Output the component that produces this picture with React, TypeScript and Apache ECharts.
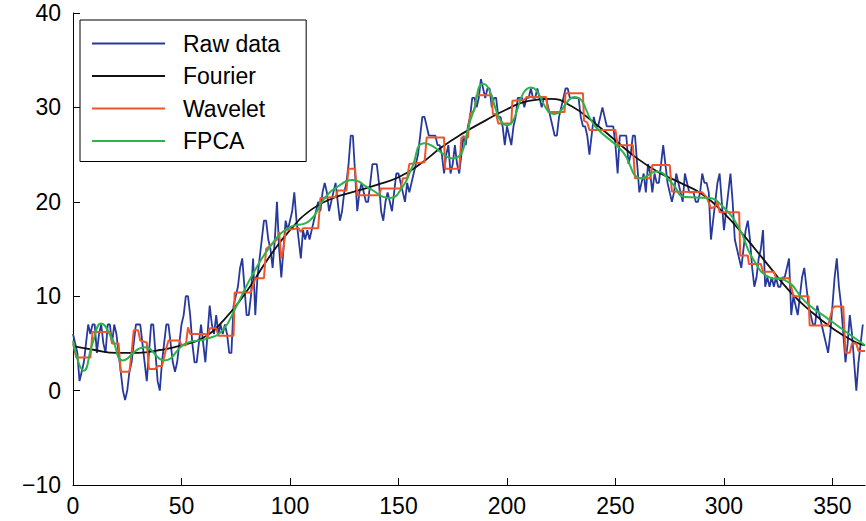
import React, { useEffect, useRef } from "react";
import * as echarts from "echarts";

const rawData: number[] = [
  6, 5, 4, 1, 2, 3, 5, 7, 6, 7, 7, 4, 6, 7, 5, 4, 7, 7, 5, 7, 6, 4, 2, 0, -1, 0, 2, 3, 5, 7,
  7, 7, 5, 3, 1, 4, 7, 7, 4, 1, 0, 3, 5, 7, 7, 5, 3, 2, 3, 5, 7, 8, 10, 10, 8, 5, 3, 3, 5, 7,
  5, 3, 6, 9, 7, 6, 8, 6, 7, 6, 7, 6, 4, 4, 9, 10, 11, 13, 14, 11, 8, 8, 10, 14, 8, 12, 14, 16, 18, 18,
  16, 15, 13, 16, 20, 15, 12, 15, 18, 17, 18, 19, 21, 18, 16, 14, 17, 16, 17, 16, 17, 18, 19, 20, 19, 21, 22, 21, 19, 20,
  21, 22, 20, 18, 19, 21, 22, 24, 27, 27, 23, 19, 21, 22, 21, 20, 20, 22, 24, 24, 24, 22, 19, 18, 20, 21, 20, 19, 21, 23,
  23, 22, 21, 20, 22, 21, 22, 23, 24, 25, 27, 29, 29, 28, 27, 27, 27, 27, 26, 26, 25, 23, 25, 26, 23, 24, 26, 24, 23, 25,
  27, 26, 28, 29, 31, 31, 30, 31, 33, 32, 31, 32, 32, 30, 31, 31, 29, 29, 28, 26, 28, 27, 26, 28, 29, 31, 31, 31, 30, 31,
  31, 32, 31, 31, 32, 31, 30, 31, 31, 30, 29, 28, 27, 27, 29, 30, 31, 32, 32, 31, 31, 31, 31, 31, 29, 28, 28, 27, 25, 27,
  29, 28, 28, 29, 30, 29, 28, 28, 28, 28, 26, 23, 27, 27, 27, 27, 24, 25, 27, 27, 24, 21, 22, 23, 21, 24, 23, 21, 23, 22,
  22, 24, 26, 24, 22, 21, 20, 21, 23, 22, 21, 20, 23, 22, 21, 21, 21, 20, 20, 21, 23, 22, 22, 21, 16, 18, 20, 22, 23, 20,
  17, 19, 21, 23, 20, 16, 15, 14, 13, 15, 17, 18, 16, 13, 11, 12, 14, 15, 17, 11, 12, 11, 12, 11, 12, 11, 11, 12, 12, 13,
  14, 8, 10, 9, 8, 10, 12, 13, 11, 9, 8, 7, 7, 9, 8, 7, 6, 5, 4, 6, 9, 12, 14, 11, 9, 6, 3, 5, 8, 6, 3, 0, 3, 5, 7,
];

const fourierDays: number[] = [0, 10, 20, 30, 40, 50, 60, 70, 80, 90, 100, 110, 120, 130, 140, 150, 160, 170, 180, 190, 200, 210, 220, 230, 240, 250, 260, 270, 280, 290, 300, 310, 320, 330, 340, 350, 360, 365];
const fourierValues: number[] = [4.7, 4.3, 4.0, 4.0, 4.3, 4.8, 5.6, 7.6, 10.5, 14.0, 17.0, 19.2, 20.4, 21.1, 21.8, 22.6, 24.0, 25.8, 27.3, 28.6, 29.8, 30.7, 30.9, 30.1, 28.4, 26.5, 24.6, 23.1, 22.0, 20.8, 18.8, 16.2, 13.4, 10.6, 8.4, 6.6, 5.2, 4.8];

const waveletDays: number[] = [0, 1.5, 8, 9, 17, 18, 21, 22, 26, 27, 28, 30, 31, 34, 35, 38, 39, 41, 43, 44, 49, 50, 52, 53, 54, 61, 62, 63, 66, 67, 74, 74.5, 82, 84, 88, 89, 91, 94, 95, 96, 97, 98, 104, 105, 106, 113, 114, 121, 122, 126, 127, 130, 131, 141, 142, 151, 152, 154, 155, 162, 163, 171, 171.5, 178, 179, 182, 183, 185, 186, 193, 193.5, 195, 196, 202, 202.5, 208, 209, 218, 219, 226.5, 227, 235, 235.5, 237, 238, 250, 251, 258, 259, 266, 267, 275, 276, 290, 292, 294, 296, 297, 298, 307, 307.5, 311, 311.5, 317, 318, 323, 324, 330, 331, 332, 339, 339.5, 348, 349, 350, 351, 355, 356, 358, 359, 361, 362, 365];
const waveletValues: number[] = [5, 3.5, 3.5, 6.2, 6.2, 5, 5, 2, 2, 4, 6.4, 6.4, 5.3, 5.1, 2.3, 2.3, 2.6, 2.6, 4.5, 5.3, 5.3, 4.8, 4.8, 6.7, 6, 6, 5.6, 6.6, 6.6, 5.8, 5.8, 10.4, 10.4, 11.9, 11.9, 15, 15.4, 16, 16.8, 14, 15, 17, 17.2, 16.8, 17.2, 17.2, 20.4, 20.5, 21.2, 21.2, 23.5, 23.5, 20.7, 20.7, 21.4, 21.4, 22.5, 22.5, 24, 24.2, 26.8, 26.8, 23.5, 23.5, 26.8, 26.8, 29.3, 29.7, 31.3, 31.3, 29.3, 29.3, 28.3, 28.3, 30.7, 30.8, 31.1, 31.1, 29.5, 29.5, 31.5, 31.5, 28.6, 28.4, 27.6, 27.6, 26, 26, 22.5, 22.5, 23.9, 23.9, 21.1, 21, 20.5, 19.3, 19.5, 20, 18.9, 18.9, 14.3, 14.3, 13.4, 13.4, 12.6, 12.6, 11.9, 11.9, 11, 10, 10, 6.9, 6.9, 7.8, 8.7, 8.9, 8.9, 4, 4, 5, 5, 4.2, 4.2];

const fpcaDays: number[] = [0, 5, 9, 13, 18, 23, 30, 33, 42, 52, 62, 69, 75, 83, 91, 99, 109, 116, 122, 129, 136, 146, 152, 156, 162, 175, 184, 189, 200, 211, 222, 231, 241, 253, 262, 269, 276, 282, 293, 299, 307, 313, 321, 328, 338, 348, 357, 365];
const fpcaValues: number[] = [5.3, 2.1, 5.0, 7.1, 5.5, 3.2, 4.4, 4.6, 3.2, 5.0, 5.5, 6.4, 8.8, 12.4, 15.3, 17.2, 18.0, 20.4, 21.6, 22.3, 21.5, 20.4, 21.6, 23.5, 26.2, 24.6, 29.2, 32.5, 28.1, 32.1, 29.3, 31.1, 27.9, 25.4, 22.5, 23.2, 22.0, 20.5, 20.4, 19.6, 17.2, 14.1, 12.0, 11.7, 9.3, 7.6, 6.1, 4.8];

const seriesNames: string[] = ["Raw data", "Fourier", "Wavelet", "FPCA"];
const xTicks: number[] = [0, 50, 100, 150, 200, 250, 300, 350];
const yTicks: number[] = [-10, 0, 10, 20, 30, 40];

const FONT = "'Liberation Sans', Arial, Helvetica, sans-serif";

export default function App() {
  const ref = useRef<HTMLDivElement>(null);
  useEffect(() => {
    if (!ref.current) return;
    const chart = echarts.init(ref.current, undefined, { renderer: "svg" });
    const pair = (xs: number[], ys: number[]) => xs.map((x, i) => [x, ys[i]]);
    const fmtY = (v: number) => (v < 0 ? "\u2212" + Math.abs(v) : String(v));
    const axisLineStyle = { color: "#000", width: 1 };
    chart.setOption({
      animation: false,
      backgroundColor: "#fff",
      grid: { left: 73, right: 1, top: 13, bottom: 36, containLabel: false },
      legend: {
        left: 80,
        top: 20,
        orient: "vertical",
        data: seriesNames,
        icon: "rect",
        itemWidth: 73,
        itemHeight: 2,
        itemGap: 9.5,
        padding: [12, 26, 9, 12],
        borderColor: "#000",
        borderWidth: 1,
        backgroundColor: "#fff",
        textStyle: { fontFamily: FONT, fontSize: 23, lineHeight: 23, color: "#000", padding: [0, 0, 0, 13] },
      },
      xAxis: {
        type: "value",
        min: 0,
        max: 365,
        interval: 50,
        axisLine: { show: true, onZero: false, lineStyle: axisLineStyle },
        axisTick: { show: true, inside: true, length: 7, lineStyle: axisLineStyle },
        axisLabel: {
          fontFamily: FONT,
          fontSize: 23,
          color: "#000",
          margin: 9,
          showMaxLabel: false,
          formatter: (v: number) => (xTicks.includes(v) ? String(v) : ""),
        },
        splitLine: { show: false },
      },
      yAxis: {
        type: "value",
        min: -10,
        max: 40,
        interval: 10,
        axisLine: { show: true, onZero: false, lineStyle: axisLineStyle },
        axisTick: { show: true, inside: true, length: 7, lineStyle: axisLineStyle },
        axisLabel: {
          fontFamily: FONT,
          fontSize: 23,
          color: "#000",
          margin: 12,
          formatter: (v: number) => (yTicks.includes(v) ? fmtY(v) : ""),
        },
        splitLine: { show: false },
      },
      series: [
        {
          name: seriesNames[0],
          type: "line",
          data: rawData.map((v, i) => [i, v]),
          showSymbol: false,
          symbol: "none",
          lineStyle: { color: "#27399c", width: 1.8 },
          itemStyle: { color: "#27399c" },
          z: 2,
        },
        {
          name: seriesNames[1],
          type: "line",
          data: pair(fourierDays, fourierValues),
          smooth: true,
          symbol: "none",
          lineStyle: { color: "#111", width: 1.8 },
          itemStyle: { color: "#111" },
          z: 3,
        },
        {
          name: seriesNames[2],
          type: "line",
          data: pair(waveletDays, waveletValues),
          symbol: "none",
          lineStyle: { color: "#f2542a", width: 2 },
          itemStyle: { color: "#f2542a" },
          z: 4,
        },
        {
          name: seriesNames[3],
          type: "line",
          data: pair(fpcaDays, fpcaValues),
          smooth: 0.5,
          symbol: "none",
          lineStyle: { color: "#2cb34b", width: 2 },
          itemStyle: { color: "#2cb34b" },
          z: 5,
        },
      ],
    });
    return () => chart.dispose();
  }, []);
  return (
    <div
      ref={ref}
      style={{ position: "fixed", left: 0, top: 0, width: 866, height: 521, background: "#fff" }}
    />
  );
}
